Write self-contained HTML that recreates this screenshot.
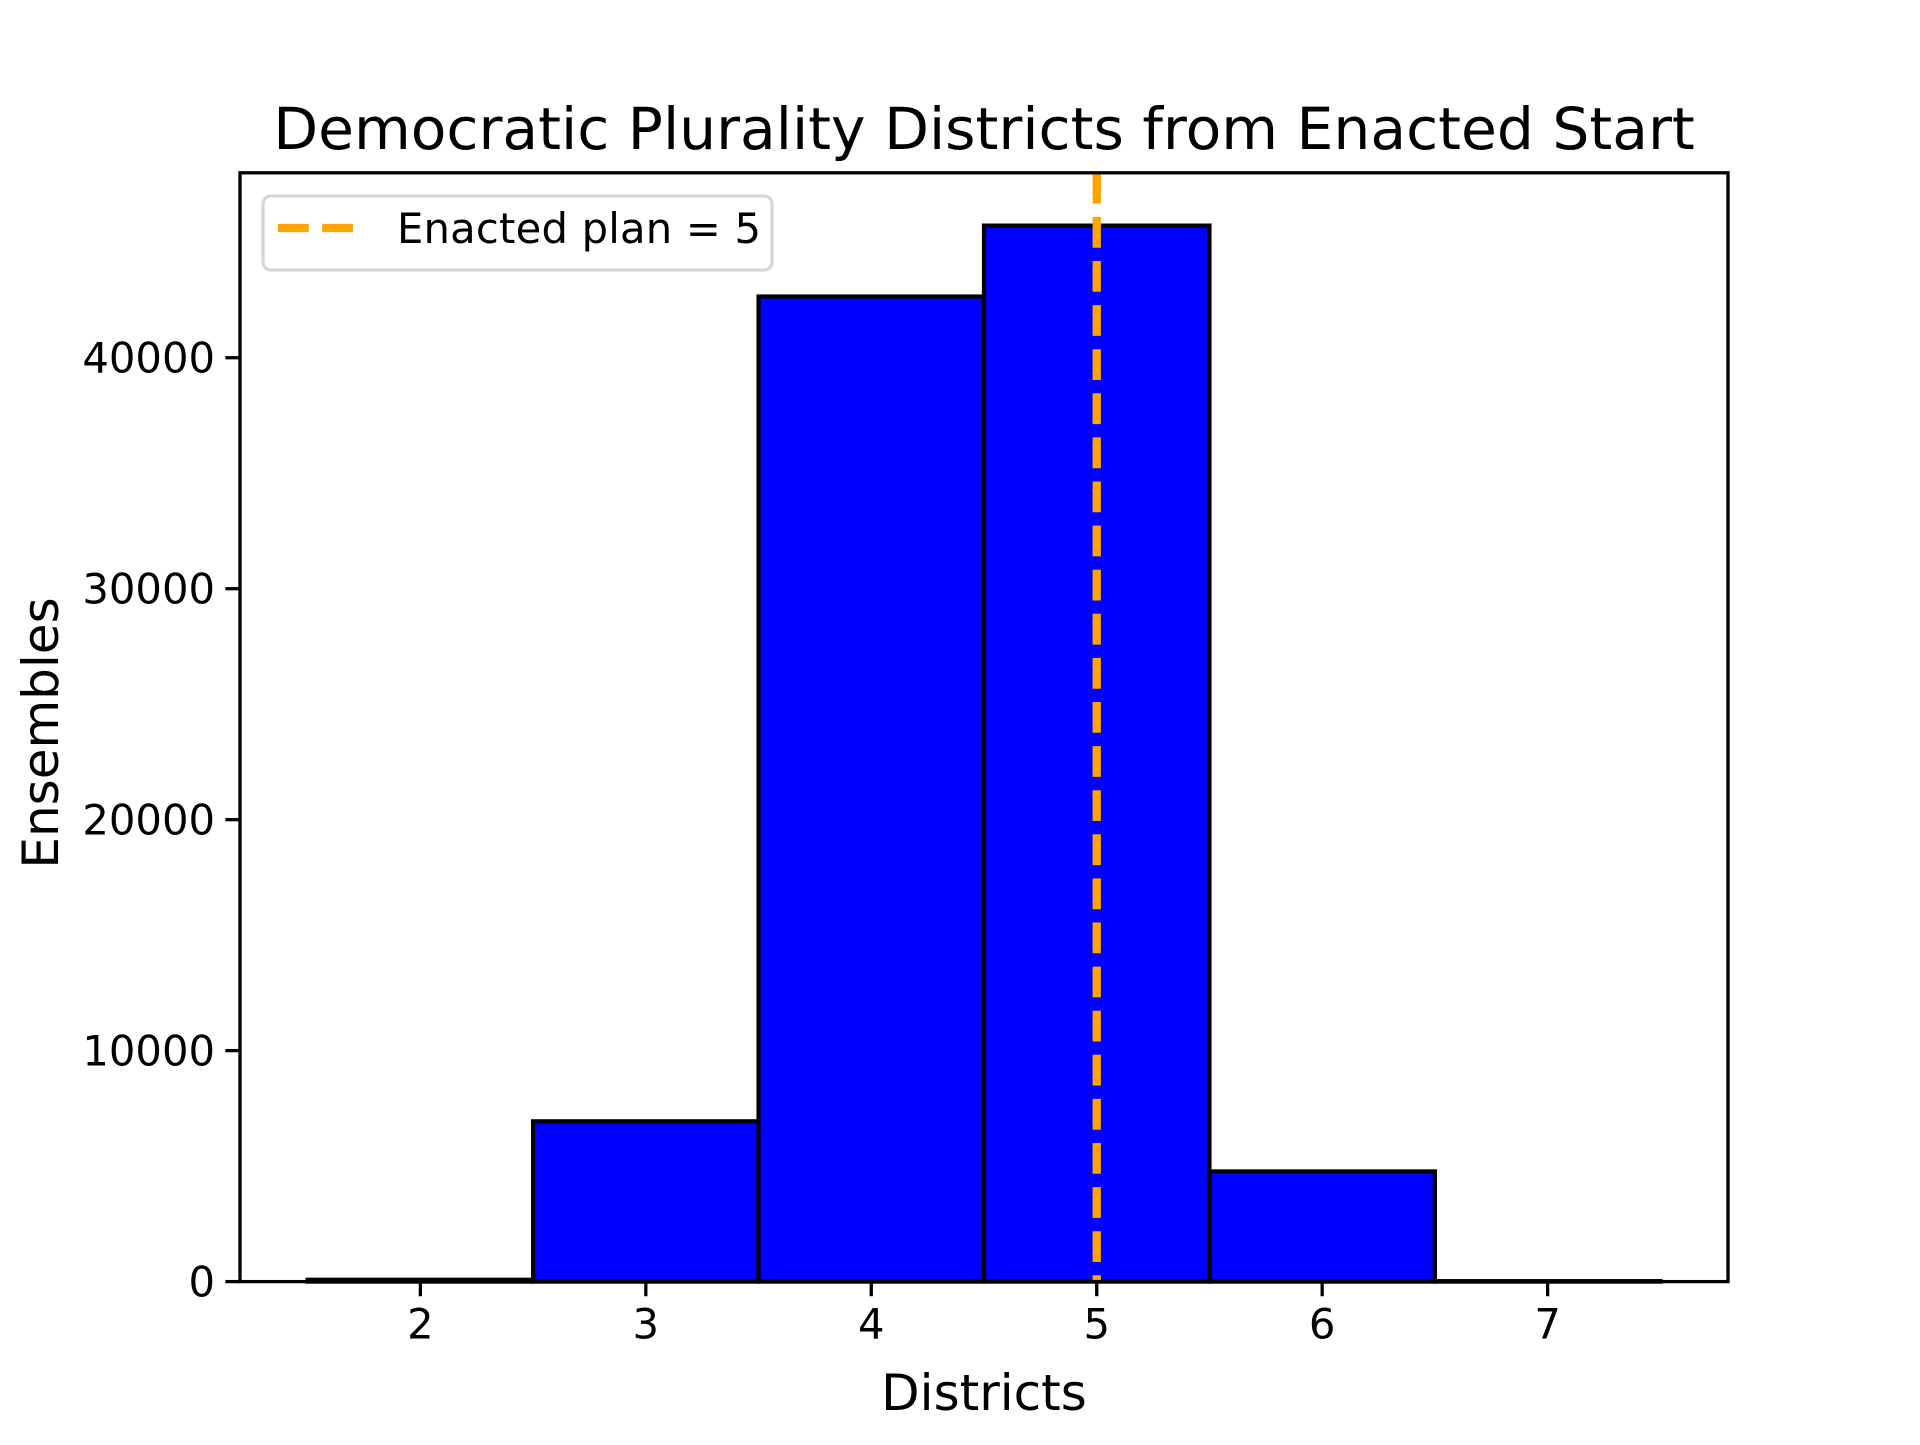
<!DOCTYPE html>
<html><head><meta charset="utf-8"><style>
html,body{margin:0;padding:0;background:#fff;}
svg text{font-family:"DejaVu Sans","Liberation Sans",sans-serif;fill:#000;}
</style></head><body>
<svg id="chart" width="1920" height="1440" viewBox="0 0 1920 1440" xmlns="http://www.w3.org/2000/svg">
<rect width="1920" height="1440" fill="#fff"/>
<text x="984" y="149" font-size="58.3" text-anchor="middle">Democratic Plurality Districts from Enacted Start</text>
<g id="bars"></g>
<g id="xticks"></g>
<g id="yticks"></g>
<line id="enacted" stroke="#ffa500" stroke-width="8.3" stroke-dasharray="30.8,13.3"/>
<rect x="240" y="172.8" width="1488" height="1108.8" fill="none" stroke="#000" stroke-width="3.3"/>
<text x="984" y="1410" font-size="50" text-anchor="middle">Districts</text>
<text transform="translate(58,733) rotate(-90)" font-size="50" text-anchor="middle">Ensembles</text>
<g>
<rect x="263" y="196" width="509" height="74" rx="8" fill="#fff" fill-opacity="0.8" stroke="#d6d6d6" stroke-width="3.3"/>
<line x1="278" y1="228" x2="360" y2="228" stroke="#ffa500" stroke-width="8.3" stroke-dasharray="30.8,13.3"/>
<text x="397" y="243" font-size="41.7" textLength="364">Enacted plan = 5</text>
</g>
</svg>
<script>
const categories = [2, 3, 4, 5, 6, 7];
const counts = [80, 6940, 42650, 45720, 4770, 20];
const xTicks = [2, 3, 4, 5, 6, 7];
const yTicks = [0, 10000, 20000, 30000, 40000];
const enactedValue = [5];

const L=240,R=1728,T=172.8,B=1281.6;
const xmin=1.5-0.3, xmax=7.5+0.3;
const ymax=Math.max(...counts)*1.05;
const xs=v=>L+(v-xmin)/(xmax-xmin)*(R-L);
const ys=v=>B-v/ymax*(B-T);
const NS="http://www.w3.org/2000/svg";
function mk(tag,attrs,parent){const e=document.createElementNS(NS,tag);for(const k in attrs)e.setAttribute(k,attrs[k]);parent.appendChild(e);return e;}
const bars=document.getElementById('bars');
categories.forEach((c,i)=>{
  const x0=xs(c-0.5),x1=xs(c+0.5),y=ys(counts[i]);
  const r=mk('rect',{x:x0,y:y,width:x1-x0,height:B-y,fill:'#0000ff',stroke:'#000','stroke-width':4.2},bars);
  
  
});
const xg=document.getElementById('xticks');
xTicks.forEach(t=>{
  const l=mk('line',{x1:xs(t),x2:xs(t),y1:B,y2:B+14.6,stroke:'#000','stroke-width':3.3},xg);
  
  
  const tx=mk('text',{x:xs(t),y:B+57,'font-size':41.7,'text-anchor':'middle'},xg);
  tx.textContent=t;
  
  
});
const yg=document.getElementById('yticks');
yTicks.forEach(t=>{
  const l=mk('line',{x1:L-14.6,x2:L,y1:ys(t),y2:ys(t),stroke:'#000','stroke-width':3.3},yg);
  
  
  const tx=mk('text',{x:L-25,y:ys(t)+15,'font-size':41.7,'text-anchor':'end'},yg);
  tx.textContent=t;
  
  
});
const en=document.getElementById('enacted');
en.setAttribute('x1',xs(enactedValue[0]));en.setAttribute('x2',xs(enactedValue[0]));
en.setAttribute('y1',T);en.setAttribute('y2',B);
</script>
</body></html>
